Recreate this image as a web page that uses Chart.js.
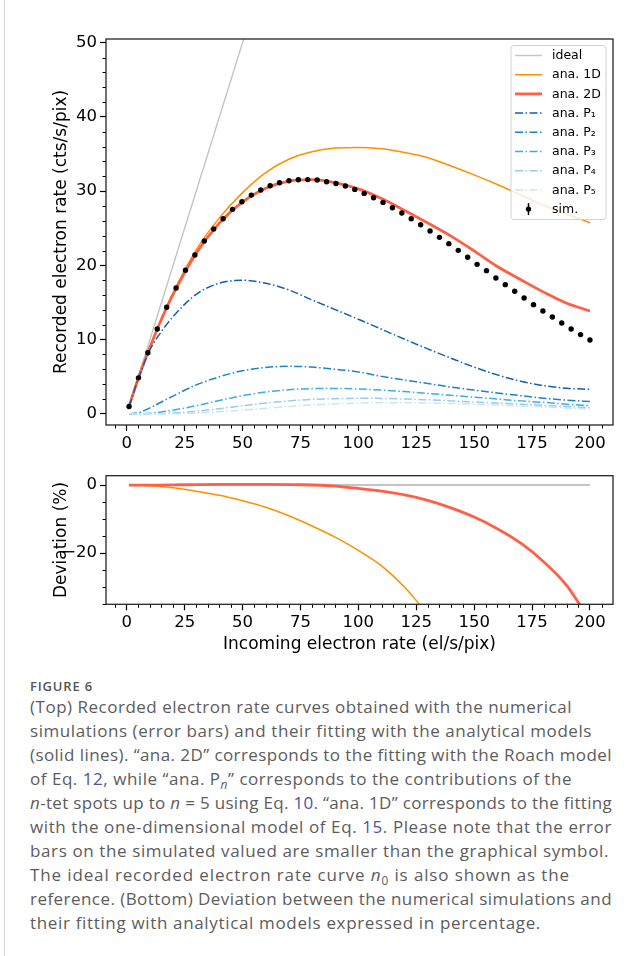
<!DOCTYPE html>
<html>
<head>
<meta charset="utf-8">
<script src="https://cdn.jsdelivr.net/npm/chart.js@4.4.0/dist/chart.umd.min.js"></script>
<style>
  body { margin: 0; background: #fff; }
  #page { position: relative; width: 641px; height: 956px; overflow: hidden; background: #fff; }
  #edge { position: absolute; left: 4px; top: 0; width: 1px; height: 956px; background: #d6d6d6; }
  #topChart { position: absolute; left: 0; top: 0; }
  #bottomChart { position: absolute; left: 0; top: 460px; }
  #figLabel { position: absolute; left: 30px; top: 676px; font-family: 'Open Sans', sans-serif; font-size: 13px;
    font-weight: 600; color: #555; line-height: 20px; width: max-content; }
  #caption { position: absolute; left: 30px; top: 695px; font-family: 'Open Sans', sans-serif; color: #5c5c5c; }
  .line { font-size: 17px; line-height: 24px; height: 24px; white-space: nowrap; width: max-content; }
  .ref { color: #4f4fae; }
  sub { font-size: 0.7em; line-height: 0; vertical-align: baseline; position: relative; top: 0.3em; }
</style>
</head>
<body>
<div id="page">
  <div id="edge"></div>
  <canvas id="topChart" width="641" height="470"></canvas>
  <canvas id="bottomChart" width="641" height="200"></canvas>
  <div id="figLabel">FIGURE 6</div>
  <div id="caption">
    <div class="line">(Top) Recorded electron rate curves obtained with the numerical</div>
    <div class="line">simulations (error bars) and their fitting with the analytical models</div>
    <div class="line">(solid lines). “ana. 2D” corresponds to the fitting with the Roach model</div>
    <div class="line">of Eq. <span class="ref">12</span>, while “ana. P<sub><i>n</i></sub>” corresponds to the contributions of the</div>
    <div class="line"><i>n</i>-tet spots up to <i>n</i> = 5 using Eq. <span class="ref">10</span>. “ana. 1D” corresponds to the fitting</div>
    <div class="line">with the one-dimensional model of Eq. <span class="ref">15</span>. Please note that the error</div>
    <div class="line">bars on the simulated valued are smaller than the graphical symbol.</div>
    <div class="line">The ideal recorded electron rate curve <i>n</i><sub>0</sub> is also shown as the</div>
    <div class="line">reference. (Bottom) Deviation between the numerical simulations and</div>
    <div class="line">their fitting with analytical models expressed in percentage.</div>
  </div>
</div>
<script>
// simulated points (incoming rate, recorded rate)
const simX = [1, 5.06, 9.12, 13.18, 17.24, 21.31, 25.37, 29.43, 33.49, 37.55,
  41.61, 45.67, 49.73, 53.80, 57.86, 61.92, 65.98, 70.04, 74.10, 78.16,
  82.22, 86.29, 90.35, 94.41, 98.47, 102.53, 106.59, 110.65, 114.71, 118.78,
  122.84, 126.90, 130.96, 135.02, 139.08, 143.14, 147.20, 151.27, 155.33, 159.39,
  163.45, 167.51, 171.57, 175.63, 179.69, 183.76, 187.82, 191.88, 195.94, 200];
const simY = [1.0, 4.85, 8.25, 11.44, 14.36, 16.96, 19.34, 21.4, 23.28, 24.9,
  26.29, 27.55, 28.58, 29.47, 30.15, 30.73, 31.13, 31.4, 31.54, 31.56,
  31.5, 31.27, 31.04, 30.69, 30.24, 29.7, 29.12, 28.49, 27.77, 27.05,
  26.29, 25.48, 24.63, 23.78, 22.93, 22.03, 21.09, 20.14, 19.29, 18.3,
  17.41, 16.51, 15.61, 14.71, 13.86, 13.05, 12.25, 11.44, 10.68, 9.96];

// analytical curves, read at these rates
const curveX = [1, 5, 10, 15, 20, 30, 40, 50, 60, 70, 80, 90, 100, 110, 120, 130, 140, 150, 160, 170, 180, 190, 200];
const ana1D = [1.0, 4.9, 9.0, 12.8, 16.3, 22.1, 26.4, 29.8, 32.5, 34.3, 35.3, 35.8, 35.9, 35.7, 35.2, 34.5, 33.4, 32.2, 30.9, 29.5, 28.1, 26.9, 25.75];
const ana2D = [1.0, 4.8, 8.95, 12.75, 16.1, 21.65, 25.7, 28.55, 30.4, 31.35, 31.55, 31.15, 30.3, 29.0, 27.4, 25.7, 23.95, 21.95, 19.85, 18.1, 16.4, 14.9, 13.86];
const anaP1 = [0.98, 4.7, 8.6, 11.1, 13.1, 16.1, 17.6, 18.0, 17.6, 16.7, 15.35, 14.05, 12.75, 11.4, 10.05, 8.75, 7.5, 6.3, 5.25, 4.4, 3.8, 3.45, 3.3];
const anaP2 = [0.0, 0.15, 0.8, 1.6, 2.4, 3.9, 5.0, 5.8, 6.25, 6.4, 6.3, 6.0, 5.65, 5.05, 4.55, 4.1, 3.6, 3.2, 2.8, 2.45, 2.1, 1.85, 1.65];
const anaP3 = [0.0, 0.0, 0.08, 0.25, 0.5, 1.1, 1.8, 2.45, 2.95, 3.25, 3.4, 3.42, 3.35, 3.2, 3.0, 2.75, 2.5, 2.25, 2.0, 1.75, 1.55, 1.3, 1.1];
const anaP4 = [0.0, 0.0, 0.01, 0.04, 0.1, 0.35, 0.7, 1.1, 1.45, 1.75, 1.95, 2.05, 2.1, 2.08, 2.0, 1.9, 1.75, 1.6, 1.45, 1.3, 1.15, 1.0, 0.85];
const anaP5 = [0.0, 0.0, 0.0, 0.0, 0.02, 0.1, 0.3, 0.5, 0.75, 1.0, 1.2, 1.35, 1.45, 1.5, 1.5, 1.45, 1.4, 1.3, 1.2, 1.05, 0.95, 0.8, 0.65];
const idealX = [1, 200];
const idealY = [1, 200];

// deviation (%) of the fits from the simulation
const dev1DX = [1, 10, 20, 30, 40, 50, 60, 70, 80, 90, 100, 110, 120, 127];
const dev1D = [0, -0.2, -0.8, -1.8, -3.0, -4.6, -6.5, -9.0, -12.0, -15.3, -19.2, -23.7, -30.0, -35.5];
const dev2DX = [1, 10, 25, 40, 50, 60, 75, 90, 100, 110, 120, 130, 140, 150, 160, 170, 180, 190, 196];
const dev2D = [0, 0.0, 0.1, 0.2, 0.2, 0.2, 0.1, -0.3, -1.0, -1.8, -2.9, -4.5, -6.7, -9.4, -12.8, -17.0, -22.5, -29.5, -35.5];
const devRefX = [1, 200];
const devRef = [0, 0];

// tick labels
const xTicks = [0, 25, 50, 75, 100, 125, 150, 175, 200];
const topYTicks = [0, 10, 20, 30, 40, 50];
const bottomYTicks = [0, -20];

// where each caption line ends on the page (px), used to match the typeset widths
const captionEnds = [572, 592, 612, 572, 612, 612, 609, 570, 612, 541];
const figLabelEnd = 93;

const FONT = "'DejaVu Sans', sans-serif";
const pts = (xs, ys) => xs.map((x, i) => ({ x: x, y: ys[i] }));

function lineSet(label, xs, ys, color, width, dash, order) {
  return {
    label: label, data: pts(xs, ys), showLine: true, borderColor: color, backgroundColor: color,
    borderWidth: width, borderDash: dash || [], pointRadius: 0, cubicInterpolationMode: 'monotone',
    order: order
  };
}

// minor ticks and the box around the axes
const axesFrame = {
  id: 'axesFrame',
  afterDatasetsDraw(chart, args, opts) {
    const { ctx, chartArea: a, scales } = chart;
    const onMajor = (v, step) => Math.abs(v / step - Math.round(v / step)) < 1e-6;
    ctx.save();
    ctx.strokeStyle = '#000';
    ctx.lineWidth = 1;
    ctx.beginPath();
    const xs = scales.x, ys = scales.y;
    for (let v = Math.ceil(xs.min / opts.xMinor) * opts.xMinor; v <= xs.max; v += opts.xMinor) {
      if (onMajor(v, opts.xMajor)) continue;
      const px = Math.round(xs.getPixelForValue(v)) + 0.5;
      ctx.moveTo(px, a.bottom); ctx.lineTo(px, a.bottom + 3.5);
    }
    for (let v = Math.ceil(ys.min / opts.yMinor) * opts.yMinor; v <= ys.max; v += opts.yMinor) {
      if (onMajor(v, opts.yMajor)) continue;
      const py = Math.round(ys.getPixelForValue(v)) + 0.5;
      ctx.moveTo(a.left, py); ctx.lineTo(a.left - 3.5, py);
    }
    ctx.stroke();
    ctx.strokeStyle = '#262626';
    ctx.lineWidth = 1.3;
    ctx.strokeRect(a.left, a.top, a.right - a.left, a.bottom - a.top);
    ctx.restore();
  }
};

// matplotlib-like legend in the upper right corner
const cornerLegend = {
  id: 'cornerLegend',
  afterDraw(chart, args, opts) {
    if (!opts.show) return;
    const { ctx, chartArea: a } = chart;
    const sets = chart.data.datasets;
    const rowH = 19.2, w = 95, h = 174;
    const left = a.right - 7 - w, top = a.top + 6.5;
    ctx.save();
    ctx.beginPath();
    ctx.roundRect(left, top, w, h, 3);
    ctx.fillStyle = 'rgba(255,255,255,0.8)';
    ctx.fill();
    ctx.strokeStyle = '#d2d2d2';
    ctx.lineWidth = 1;
    ctx.stroke();
    ctx.font = '12.5px ' + FONT;
    ctx.textBaseline = 'middle';
    sets.forEach((d, i) => {
      const y = top + 10 + i * rowH;
      if (d.showLine) {
        ctx.beginPath();
        ctx.setLineDash(d.borderDash);
        ctx.strokeStyle = d.borderColor;
        ctx.lineWidth = d.borderWidth;
        ctx.moveTo(left + 4, y); ctx.lineTo(left + 31, y);
        ctx.stroke();
        ctx.setLineDash([]);
      } else {
        ctx.beginPath();
        ctx.strokeStyle = '#000';
        ctx.lineWidth = 1.5;
        ctx.moveTo(left + 17.5, y - 6); ctx.lineTo(left + 17.5, y + 6);
        ctx.stroke();
        ctx.beginPath();
        ctx.fillStyle = '#000';
        ctx.arc(left + 17.5, y, 2.7, 0, Math.PI * 2);
        ctx.fill();
      }
      ctx.fillStyle = '#000';
      ctx.fillText(d.label, left + 41, y + 0.5);
    });
    ctx.restore();
  }
};

function axisOptions(min, max, ticks, fit, title, label) {
  return {
    type: 'linear', min: min, max: max,
    afterBuildTicks: s => { s.ticks = ticks.map(v => ({ value: v })); },
    afterFit: fit,
    border: { display: false },
    grid: { display: true, drawOnChartArea: false, drawTicks: true, tickLength: 6, tickColor: '#000', tickWidth: 1.2 },
    ticks: { color: '#000', font: { family: FONT, size: 16.5 }, padding: 3, callback: label,
      maxRotation: 0, autoSkip: false },
    title: title
  };
}

const minusLabel = v => (v < 0 ? '\u2212' + Math.abs(v) : String(v));

new Chart(document.getElementById('topChart'), {
  type: 'scatter',
  data: {
    datasets: [
      lineSet('ideal', idealX, idealY, '#c4c4c4', 1.4, null, 9),
      lineSet('ana. 1D', curveX, ana1D, '#ff8f00', 1.5, null, 8),
      lineSet('ana. 2D', curveX, ana2D, '#ff5f45', 2.8, null, 7),
      lineSet('ana. P\u2081', curveX, anaP1, '#0f62ae', 1.5, [8, 2.5, 1.5, 2.5], 6),
      lineSet('ana. P\u2082', curveX, anaP2, '#1a84c8', 1.5, [8, 2.5, 1.5, 2.5], 5),
      lineSet('ana. P\u2083', curveX, anaP3, '#3bade6', 1.5, [8, 2.5, 1.5, 2.5], 4),
      lineSet('ana. P\u2084', curveX, anaP4, '#98cbea', 1.5, [8, 2.5, 1.5, 2.5], 3),
      lineSet('ana. P\u2085', curveX, anaP5, '#cde3f3', 1.5, [8, 2.5, 1.5, 2.5], 2),
      { label: 'sim.', data: pts(simX, simY), showLine: false, pointRadius: 2.7, pointHoverRadius: 2.7,
        pointBackgroundColor: '#000', pointBorderWidth: 0, borderColor: '#000', order: 0 }
    ]
  },
  options: {
    responsive: false, animation: false, devicePixelRatio: 1,
    layout: { padding: { left: 0, top: 39, right: 28, bottom: 0 } },
    plugins: {
      legend: { display: false }, tooltip: { enabled: false },
      axesFrame: { xMajor: 25, xMinor: 5, yMajor: 10, yMinor: 2 },
      cornerLegend: { show: true }
    },
    scales: {
      x: axisOptions(-8.95, 209.95, xTicks, s => { s.height = 45; }, { display: false }, v => String(v)),
      y: axisOptions(-1.5, 50.5, topYTicks, s => { s.width = 106; },
        { display: true, text: 'Recorded electron rate (cts/s/pix)', color: '#000',
          font: { family: FONT, size: 17 }, padding: { top: 51.5, bottom: 0 } }, v => String(v))
    }
  },
  plugins: [axesFrame, cornerLegend]
});

new Chart(document.getElementById('bottomChart'), {
  type: 'scatter',
  data: {
    datasets: [
      lineSet('ref', devRefX, devRef, '#c4c4c4', 2, null, 3),
      lineSet('ana. 1D', dev1DX, dev1D, '#ff8f00', 1.5, null, 2),
      lineSet('ana. 2D', dev2DX, dev2D, '#ff5f45', 2.8, null, 1)
    ]
  },
  options: {
    responsive: false, animation: false, devicePixelRatio: 1,
    layout: { padding: { left: 0, top: 15.7, right: 28, bottom: 0 } },
    plugins: {
      legend: { display: false }, tooltip: { enabled: false },
      axesFrame: { xMajor: 25, xMinor: 5, yMajor: 20, yMinor: 5 },
      cornerLegend: { show: false }
    },
    scales: {
      x: axisOptions(-8.95, 209.95, xTicks, s => { s.height = 55.7; },
        { display: true, text: 'Incoming electron rate (el/s/pix)', color: '#000',
          font: { family: FONT, size: 17 }, padding: { top: 0, bottom: 4.8 } }, v => String(v)),
      y: axisOptions(-35, 2.75, bottomYTicks, s => { s.width = 106; },
        { display: true, text: 'Deviation (%)', color: '#000',
          font: { family: FONT, size: 17 }, padding: { top: 51.5, bottom: 0 } }, minusLabel)
    }
  },
  plugins: [axesFrame, cornerLegend]
});

// stretch each caption line a little so it ends where the printed line ends
function fitLine(el, end) {
  const box = el.getBoundingClientRect();
  const chars = el.textContent.length;
  const extra = (end - box.right) / chars;
  el.style.letterSpacing = extra.toFixed(3) + 'px';
}
document.querySelectorAll('#caption .line').forEach((el, i) => fitLine(el, captionEnds[i]));
fitLine(document.getElementById('figLabel'), figLabelEnd);
</script>
</body>
</html>
